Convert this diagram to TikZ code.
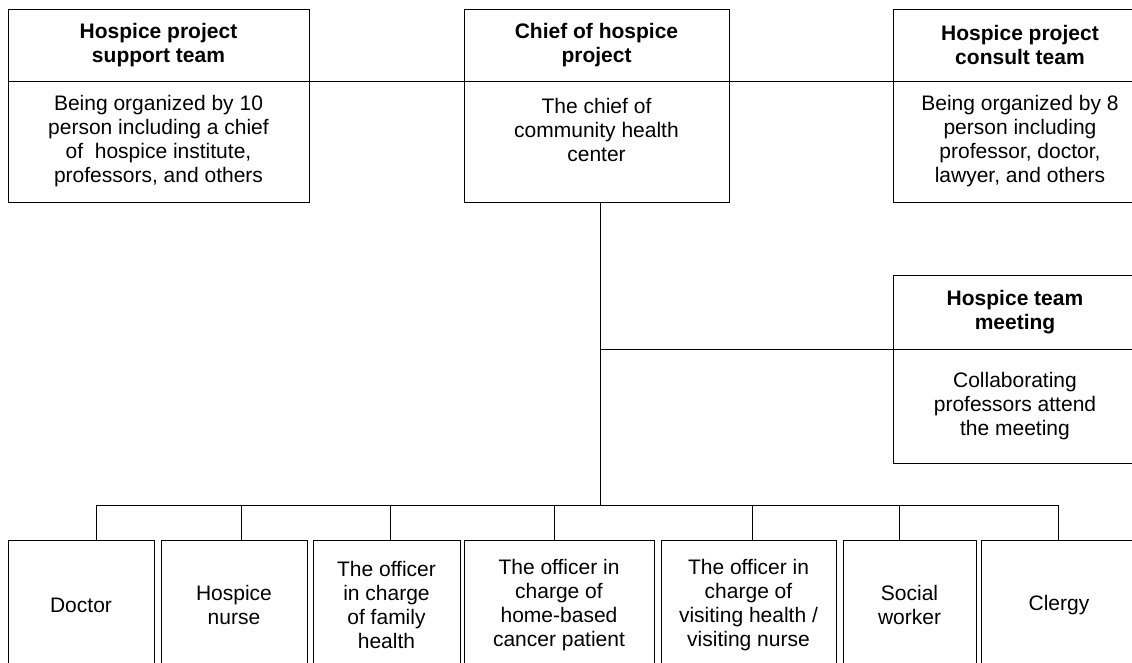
\documentclass[tikz,border=0pt]{standalone}
\usepackage{fontspec}
\setmainfont{Liberation Sans}
\usetikzlibrary{positioning}

\begin{document}
\begin{tikzpicture}[x=1pt, y=-1pt, line width=0.9pt,
  box/.style={draw, rectangle, inner sep=0pt, outer sep=0pt, align=center, font=\fontsize{21}{24}\selectfont},
  head/.style={box, font=\fontsize{21}{24}\selectfont\bfseries, minimum height=72},
  staff/.style={box, anchor=north west, minimum height=130}]

\useasboundingbox (0,0) rectangle (1132,662);
\clip (0,0) rectangle (1132,662);

% top row
\node[head, anchor=north west, minimum width=301] (supT) at (8,9) {Hospice project\\support team};
\node[box, below=0pt of supT, minimum width=301, minimum height=121] (supB) {Being organized by 10\\person including a chief\\of~ hospice institute,\\professors, and others};

\node[head, anchor=north west, minimum width=265] (chiefT) at (464,9) {Chief of hospice\\project};
\node[box, below=0pt of chiefT, minimum width=265, minimum height=121] (chiefB) {The chief of\\community health\\center\\\mbox{}};

\node[head, anchor=north west, minimum width=254] (consT) at (893,9) {Hospice project\\consult team};
\node[box, below=0pt of consT, minimum width=254, minimum height=121] (consB) {Being organized by 8\\person including\\professor, doctor,\\lawyer, and others};

% team meeting
\node[head, anchor=north west, minimum width=244, minimum height=74] (meetT) at (893,275) {Hospice team\\meeting};
\node[box, below=0pt of meetT, minimum width=244, minimum height=114] (meetB) {Collaborating\\professors attend\\the meeting};

% staff row
\node[staff, minimum width=146] (doc) at (8,540) {Doctor};
\node[staff, minimum width=146] (nurse) at (161,540) {Hospice\\nurse};
\node[staff, minimum width=147] (fam) at (313,540) {The officer\\in charge\\of family\\health};
\node[staff, minimum width=190] (home) at (464,540) {The officer in\\charge of\\home-based\\cancer patient};
\node[staff, minimum width=175] (visit) at (661,540) {The officer in\\charge of\\visiting health /\\visiting nurse};
\node[staff, minimum width=133] (social) at (843,540) {Social\\worker};
\node[staff, minimum width=156] (clergy) at (981,540) {Clergy};

% lines
\draw (supT.south east) -- (chiefT.south west);
\draw (chiefT.south east) -- (consT.south west);

\coordinate (hub) at (600,505);
\draw (chiefB.south -| hub) -- (hub);
\draw (hub |- meetT.south west) -- (meetT.south west);

\foreach \nd/\x in {doc/96, nurse/241, fam/390, home/554, visit/752, social/899, clergy/1058}{
  \coordinate (t\nd) at (\x,505);
  \draw (t\nd) -- (t\nd |- \nd.north);
}
\draw (tdoc) -- (tclergy);

\end{tikzpicture}
\end{document}
